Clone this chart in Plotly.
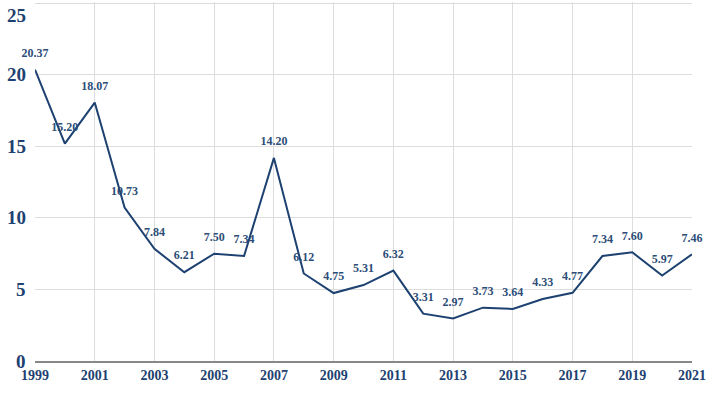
import plotly.graph_objects as go

years = list(range(1999, 2022))
values = [20.37, 15.20, 18.07, 10.73, 7.84, 6.21, 7.50, 7.34, 14.20, 6.12, 4.75, 5.31,
          6.32, 3.31, 2.97, 3.73, 3.64, 4.33, 4.77, 7.34, 7.60, 5.97, 7.46]
labels = [f"{v:.2f}" for v in values]
y_ticks = [0, 5, 10, 15, 20, 25]
x_ticks = list(range(1999, 2022, 2))

color = "#1d4170"
fig = go.Figure(go.Scatter(
    x=years, y=values, mode="lines+markers+text", text=labels, textposition="top center",
    line=dict(color=color, width=2),
    marker=dict(size=14, opacity=0),
    textfont=dict(family="Liberation Serif", size=12, color="#2c4d78", weight="bold"),
    cliponaxis=False, hoverinfo="skip",
))
y_max = max(y_ticks)
for t in y_ticks:
    fig.add_annotation(
        x=0, xref="paper", y=t, yref="y", text=str(t), showarrow=False,
        xanchor="right", yanchor="top" if t == y_max else "middle", xshift=-7,
        font=dict(size=19, family="Liberation Serif", color=color, weight="bold"),
    )
fig.update_layout(
    width=713, height=397, margin=dict(l=35, r=21, t=2, b=36),
    paper_bgcolor="white", plot_bgcolor="white", showlegend=False,
    font=dict(family="Liberation Serif", color=color),
)
fig.update_xaxes(range=[1999, 2021], tickvals=x_ticks,
                 showgrid=True, gridcolor="#dddddd", gridwidth=1,
                 showline=True, linecolor="#888888", linewidth=1.5,
                 tickfont=dict(size=14, family="Liberation Serif", color=color, weight="bold"),
                 zeroline=False, ticks="", automargin=False)
fig.update_yaxes(range=[0, 25.1], tickvals=y_ticks, showticklabels=False,
                 showgrid=True, gridcolor="#dddddd", gridwidth=1,
                 zeroline=False, showline=False,
                 ticks="", automargin=False)
fig.write_html("out.html", config={"displayModeBar": False},
               post_script="document.body.style.margin='0';document.body.style.overflow='hidden';")
